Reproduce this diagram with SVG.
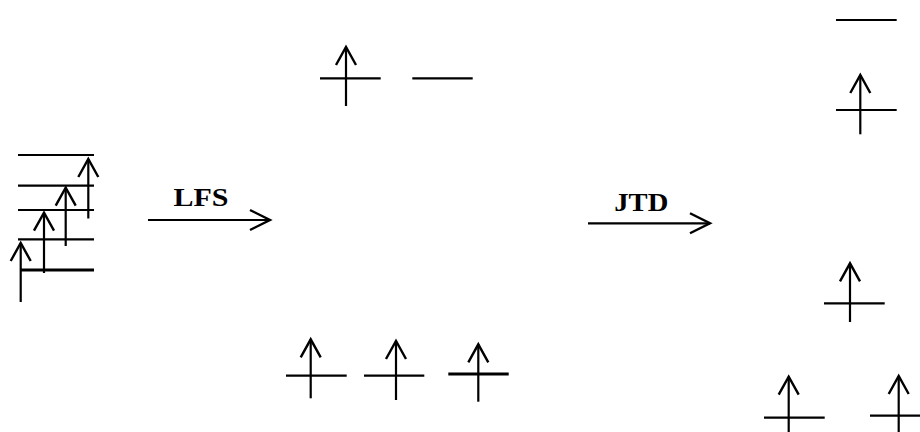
<svg xmlns="http://www.w3.org/2000/svg" width="920" height="432" viewBox="0 0 920 432">
<style>
.lv{stroke:#000;stroke-width:2.2;fill:none}
.lvb{stroke:#000;stroke-width:3;fill:none}
.sp{stroke:#000;stroke-width:2.2;fill:none;marker-end:url(#chev)}
.cn{stroke:#000;stroke-width:2.2;fill:none;marker-end:url(#chev2)}
.lbl{font-family:"Liberation Serif","Times New Roman",serif;font-weight:bold;font-size:25px;fill:#000}
</style>
<defs>
<marker id="chev" markerUnits="userSpaceOnUse" orient="auto" refX="0" refY="0" markerWidth="30" markerHeight="30" viewBox="-25 -15 30 30" overflow="visible">
<path d="M-18,-10 L0,0 L-18,10" stroke="#000" stroke-width="2.4" fill="none"/>
</marker>
<marker id="chev2" markerUnits="userSpaceOnUse" orient="auto" refX="0" refY="0" markerWidth="30" markerHeight="30" viewBox="-25 -15 30 30" overflow="visible">
<path d="M-20,-10 L0,0 L-20,10" stroke="#000" stroke-width="2.4" fill="none"/>
</marker>
</defs>
<g id="free-ion">
<line class="lv" x1="18" y1="155" x2="94" y2="155"/>
<line class="lv" x1="18" y1="185.7" x2="94" y2="185.7"/>
<line class="lv" x1="18" y1="210" x2="94" y2="210"/>
<line class="lv" x1="18" y1="239.3" x2="94" y2="239.3"/>
<line class="lvb" x1="20" y1="270" x2="94" y2="270"/>
<line class="sp" x1="20.7" y1="302" x2="20.7" y2="243"/>
<line class="sp" x1="44" y1="273" x2="44" y2="212.7"/>
<line class="sp" x1="65.7" y1="246" x2="65.7" y2="187.7"/>
<line class="sp" x1="88.3" y1="218.5" x2="88.3" y2="159"/>
</g>
<g id="connectors">
<line class="cn" x1="148" y1="220" x2="270" y2="220"/>
<line class="cn" x1="588" y1="223.3" x2="710" y2="223.3"/>
</g>
<g id="label-lfs"><text class="lbl" x="201" y="205.7" text-anchor="middle" textLength="55" lengthAdjust="spacingAndGlyphs">LFS</text></g>
<g id="label-jtd"><text class="lbl" x="641.3" y="210.7" text-anchor="middle" textLength="54" lengthAdjust="spacingAndGlyphs">JTD</text></g>
<g id="eg-level">
<line class="lv" x1="320" y1="78.3" x2="380.7" y2="78.3"/>
<line class="sp" x1="346" y1="106" x2="346" y2="47"/>
<line class="lv" x1="412.3" y1="78.3" x2="472.7" y2="78.3"/>
</g>
<g id="t2g-level">
<line class="lv" x1="286" y1="375.7" x2="346.7" y2="375.7"/>
<line class="sp" x1="310.7" y1="398.3" x2="310.7" y2="339.3"/>
<line class="lv" x1="364" y1="375.7" x2="424.3" y2="375.7"/>
<line class="sp" x1="396" y1="400" x2="396" y2="341"/>
<line class="lvb" x1="448.3" y1="374" x2="508.7" y2="374"/>
<line class="sp" x1="478.3" y1="401.7" x2="478.3" y2="344.3"/>
</g>
<g id="jt-top">
<line class="lv" x1="836" y1="20" x2="896.7" y2="20"/>
</g>
<g id="jt-second">
<line class="lv" x1="836" y1="110" x2="896.7" y2="110"/>
<line class="sp" x1="860.3" y1="134.3" x2="860.3" y2="75"/>
</g>
<g id="jt-third">
<line class="lv" x1="824" y1="303.3" x2="884.7" y2="303.3"/>
<line class="sp" x1="850" y1="322" x2="850" y2="263.3"/>
</g>
<g id="jt-bottom-left">
<line class="lv" x1="764" y1="417.7" x2="824.7" y2="417.7"/>
<line class="sp" x1="788.7" y1="432" x2="788.7" y2="376.7"/>
</g>
<g id="jt-bottom-right">
<line class="lv" x1="870" y1="415.7" x2="920" y2="415.7"/>
<line class="sp" x1="898.7" y1="432" x2="898.7" y2="376"/>
</g>
</svg>
